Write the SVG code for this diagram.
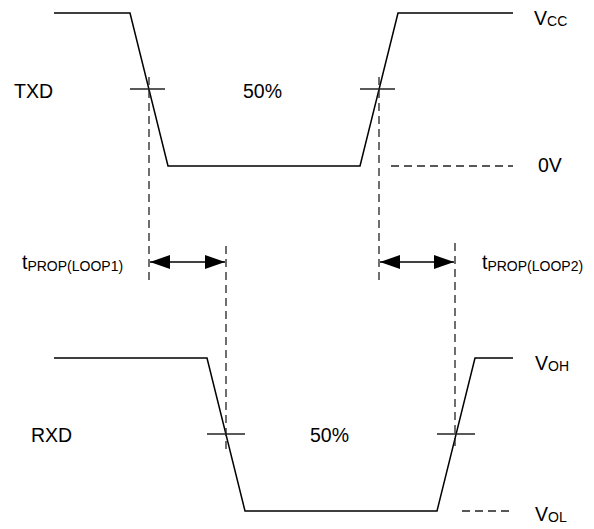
<svg xmlns="http://www.w3.org/2000/svg" width="594" height="529" viewBox="0 0 594 529">
<style>
.wave{fill:none;stroke:#000;stroke-width:1.5}
.tick{fill:none;stroke:#222;stroke-width:1.3}
.dash{fill:none;stroke:#222;stroke-width:1.3;stroke-dasharray:8,5}
.arr{fill:none;stroke:#000;stroke-width:1.3}
.lbl{font-family:"Liberation Sans",Arial,sans-serif;font-size:19.5px;fill:#000}
.sub{font-size:14px}
</style>
<defs>
<marker id="ah" viewBox="0 0 20 14" refX="20" refY="7" markerWidth="20" markerHeight="14" markerUnits="userSpaceOnUse" orient="auto-start-reverse">
<path d="M0,0 L20,7 L0,14 Z" fill="#000"/>
</marker>
</defs>
<rect width="594" height="529" fill="#fff"/>
<g id="txd">
<polyline class="wave" points="54,13 130,13 168,166 360,166 398,13 513,13"/>
<line class="tick" x1="130" y1="89" x2="165" y2="89"/>
<line class="tick" x1="360" y1="89" x2="395" y2="89"/>
<text class="lbl" x="14" y="98">TXD</text>
<text class="lbl" x="243" y="98">50%</text>
<text class="lbl" x="534" y="25">V<tspan class="sub" dy="1">CC</tspan></text>
<text class="lbl" x="538" y="172">0V</text>
</g>
<g id="rxd">
<polyline class="wave" points="54,358 207,358 245,511 437,511 475,358 513,358"/>
<line class="tick" x1="207" y1="434" x2="245" y2="434"/>
<line class="tick" x1="437" y1="434" x2="475" y2="434"/>
<text class="lbl" x="31" y="442">RXD</text>
<text class="lbl" x="310" y="442">50%</text>
<text class="lbl" x="535" y="370">V<tspan class="sub" dy="1">OH</tspan></text>
<text class="lbl" x="535" y="521">V<tspan class="sub" dy="1">OL</tspan></text>
</g>
<g id="labels">
<text class="lbl" x="22" y="269">t<tspan class="sub" dy="2">PROP(LOOP1)</tspan></text>
<text class="lbl" x="482" y="269">t<tspan class="sub" dy="2">PROP(LOOP2)</tspan></text>
</g>
<g id="connectors">
<line class="dash" x1="149" y1="77" x2="149" y2="282"/>
<line class="dash" x1="379" y1="77" x2="379" y2="282"/>
<line class="dash" x1="226" y1="246" x2="226" y2="453"/>
<line class="dash" x1="455" y1="243" x2="455" y2="449"/>
<line class="dash" x1="391" y1="166" x2="513" y2="166"/>
<line class="dash" x1="462" y1="511" x2="513" y2="511"/>
<line class="arr" x1="150" y1="262" x2="225" y2="262" marker-start="url(#ah)" marker-end="url(#ah)"/>
<line class="arr" x1="380" y1="262" x2="454" y2="262" marker-start="url(#ah)" marker-end="url(#ah)"/>
</g>
</svg>
